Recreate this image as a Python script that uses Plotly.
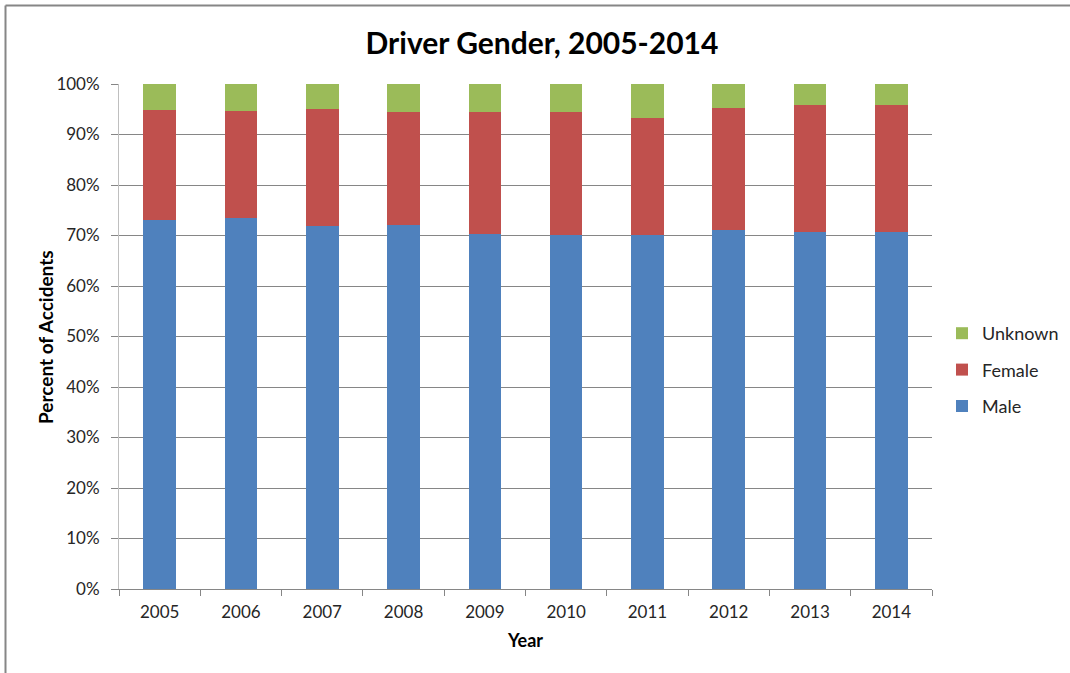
import plotly.graph_objects as go

years = ["2005", "2006", "2007", "2008", "2009", "2010", "2011", "2012", "2013", "2014"]
male = [73.1, 73.5, 71.9, 72.1, 70.2, 70.1, 70.1, 71.1, 70.7, 70.7]
female = [21.8, 21.2, 23.2, 22.4, 24.2, 24.3, 23.2, 24.2, 25.1, 25.1]
unknown = [5.1, 5.3, 4.9, 5.5, 5.6, 5.6, 6.7, 4.7, 4.2, 4.2]

FONT = "Lato, 'Open Sans', sans-serif"
W, H = 1070, 673
L, R, T, B = 119, W - 932, 84, H - 589
PW, PH = W - L - R, H - T - B

fig = go.Figure()
for name, vals, col, rank in [("Male", male, "#4F81BD", 3), ("Female", female, "#C0504D", 2),
                              ("Unknown", unknown, "#9BBB59", 1)]:
    fig.add_trace(go.Bar(x=years, y=vals, name=name, marker=dict(color=col, line=dict(width=0)),
                         legendrank=rank, legendgroup=name))

fig.update_layout(
    width=W, height=H,
    margin=dict(l=L, r=R, t=T, b=B, autoexpand=False),
    barmode="stack", bargap=0.6,
    paper_bgcolor="white", plot_bgcolor="white",
    font=dict(family=FONT, size=17, color="#262626"),
    title=dict(text="<b>Driver Gender, 2005-2014</b>", x=542 / W, xanchor="center",
               y=1 - 43 / H, yanchor="middle", font=dict(size=30, color="black")),
    xaxis=dict(type="category", tickson="boundaries", ticks="outside", ticklen=6, tickcolor="#868686",
               showline=True, linecolor="#868686", linewidth=1, showgrid=False,
               ticklabelstandoff=8,
               title=dict(text="<b>Year</b>", font=dict(size=18, color="black"), standoff=12),
               tickfont=dict(size=17, color="#262626")),
    yaxis=dict(range=[0, 100], tickvals=list(range(0, 101, 10)), ticktext=[f"{v}%" for v in range(0, 101, 10)],
               ticks="outside", ticklen=7, tickcolor="#868686", showline=True, linecolor="#BFBFBF",
               showgrid=True, gridcolor="#868686", gridwidth=1, zeroline=False,
               ticklabelstandoff=8,
               tickfont=dict(size=17, color="#262626")),
    legend=dict(x=(942 - L) / PW, xanchor="left", y=(589 - 370) / PH, yanchor="middle",
                traceorder="grouped", tracegroupgap=10, font=dict(size=18, color="#262626"), itemwidth=30),
    showlegend=True,
)
fig.add_annotation(text="<b>Percent of Accidents</b>", xref="paper", yref="paper",
                   x=(45 - L) / PW, y=(589 - 337) / PH, textangle=-90, showarrow=False,
                   xanchor="center", yanchor="middle", font=dict(size=19, color="black"))
fig.add_shape(type="line", xref="paper", yref="paper",
              x0=-(L - 5.5) / PW, x1=(W - L) / PW, y0=1 + (T - 5.5) / PH, y1=1 + (T - 5.5) / PH,
              line=dict(color="#868686", width=2))
fig.add_shape(type="line", xref="paper", yref="paper",
              x0=-(L - 5.5) / PW, x1=-(L - 5.5) / PW, y0=1 + (T - 5.5) / PH, y1=-B / PH,
              line=dict(color="#868686", width=2))

fig.write_html("out.html", post_script="document.body.style.margin='0';",
               config={"displayModeBar": False})
